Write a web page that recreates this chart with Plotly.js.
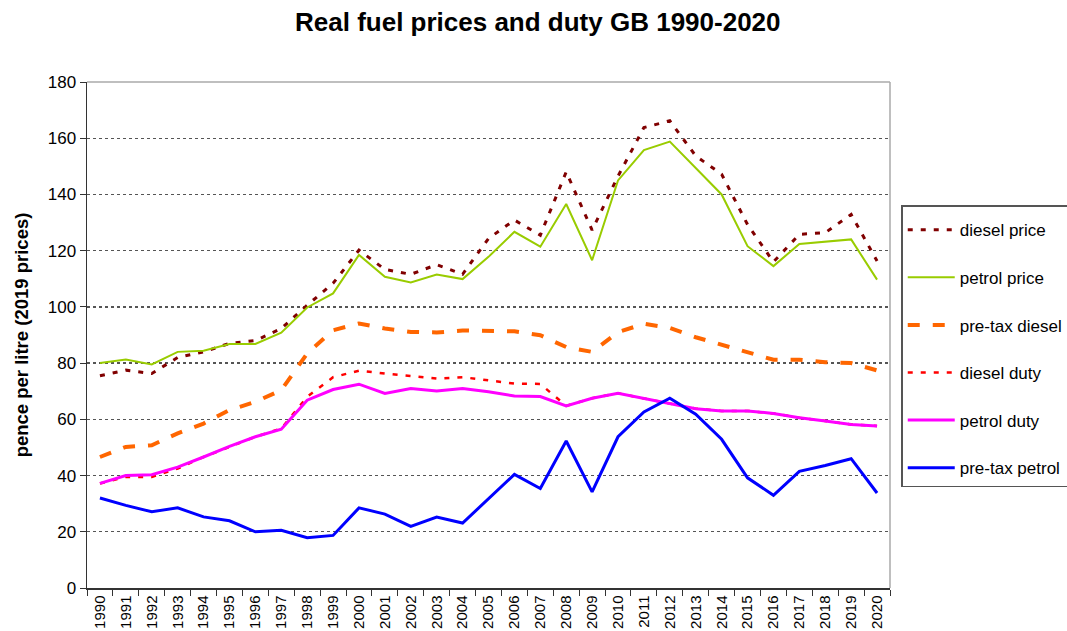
<!DOCTYPE html>
<html>
<head>
<meta charset="utf-8">
<script src="https://cdn.plot.ly/plotly-3.0.1.min.js"></script>
<style>
  html, body { margin: 0; padding: 0; background: #fff; }
  #chart { width: 1067px; height: 631px; }
</style>
</head>
<body>
<div id="chart"></div>
<script>
const years = ["1990","1991","1992","1993","1994","1995","1996","1997","1998","1999","2000","2001","2002","2003","2004","2005","2006","2007","2008","2009","2010","2011","2012","2013","2014","2015","2016","2017","2018","2019","2020"];

const dieselPrice = [75.5, 77.5, 76.3, 82, 84, 87, 88, 92.3, 100.6, 108.4, 120.2, 113.3, 111.6, 115, 111.6, 124.3, 130.9, 125.5, 148, 127.3, 146.5, 163.8, 166.2, 153.7, 147.2, 129.3, 116, 125.8, 126.4, 132.9, 116.3];
const petrolPrice = [80, 81.3, 79.5, 84, 84.4, 86.8, 86.8, 90.8, 99.8, 104.8, 118.5, 110.7, 108.7, 111.5, 109.9, 117.8, 126.7, 121.4, 136.6, 116.6, 145, 155.8, 158.8, 149.5, 140, 121.6, 114.5, 122.4, 123.2, 124, 109.7];
const preTaxDiesel = [46.6, 50.2, 50.8, 55, 58.5, 63.3, 66.2, 70.4, 83.4, 91.7, 94.1, 92.3, 91.1, 90.9, 91.6, 91.6, 91.3, 89.9, 85.7, 84, 91, 94, 92.5, 89.2, 86.5, 83.6, 81.2, 81.2, 80.3, 80, 77.4];
const dieselDuty = [37.2, 39.5, 39.5, 42.5, 46.6, 50.2, 53.8, 56.7, 68, 75, 77.3, 76.3, 75.3, 74.5, 75, 73.8, 72.7, 72.6, 64.8, 67.5, 69.3, 67.4, 65.6, 63.8, 63, 63, 62.1, 60.6, 59.4, 58.2, 57.6];
const petrolDuty = [37.2, 40, 40.3, 43, 46.6, 50.4, 53.8, 56.5, 66.8, 70.6, 72.5, 69.2, 71, 70.1, 71, 69.8, 68.3, 68.1, 64.8, 67.5, 69.3, 67.4, 65.6, 63.8, 63, 63, 62.1, 60.6, 59.4, 58.2, 57.6];
const preTaxPetrol = [32, 29.4, 27.1, 28.5, 25.3, 23.9, 20, 20.5, 17.9, 18.7, 28.5, 26.3, 21.9, 25.2, 23.1, 31.7, 40.4, 35.4, 52.3, 34.2, 53.8, 62.6, 67.5, 61.8, 52.9, 39.2, 33, 41.5, 43.6, 46, 33.8];

const seriesNames = ["diesel price", "petrol price", "pre-tax diesel", "diesel duty", "petrol duty", "pre-tax petrol"];

const FONT = "Liberation Sans, Arial, sans-serif";

function tr(name, y, color, width, dash) {
  return {
    type: "scatter", mode: "lines", name: name, x: years, y: y,
    legendgroup: name,
    line: { color: color, width: width, dash: dash }
  };
}

const data = [
  tr(seriesNames[0], dieselPrice, "#800000", 3, "5px,8px"),
  tr(seriesNames[1], petrolPrice, "#99CC00", 2, "solid"),
  tr(seriesNames[2], preTaxDiesel, "#FF6600", 4, "12px,13px"),
  tr(seriesNames[3], dieselDuty, "#FF0000", 2.5, "5px,8px"),
  tr(seriesNames[4], petrolDuty, "#FF00FF", 3, "solid"),
  tr(seriesNames[5], preTaxPetrol, "#0000FF", 3, "solid")
];

const layout = {
  width: 1067, height: 631,
  margin: { l: 87, r: 177, t: 82, b: 43, autoexpand: false },
  paper_bgcolor: "#ffffff", plot_bgcolor: "#ffffff",
  font: { family: FONT, size: 17, color: "#000" },
  title: {
    text: "<b>Real fuel prices and duty GB 1990-2020</b>",
    font: { family: FONT, size: 26, color: "#000" },
    x: 0.504, xanchor: "center", y: 0.965, yanchor: "middle"
  },
  xaxis: {
    type: "category", categoryorder: "array", categoryarray: years,
    range: [-0.5, 30.5],
    tickangle: -90,
    ticks: "outside", tickson: "boundaries", ticklen: 6, tickcolor: "#333", tickwidth: 1,
    showline: true, linecolor: "#333", linewidth: 1.5,
    showgrid: false, zeroline: false,
    tickfont: { family: FONT, size: 15, color: "#000" }
  },
  yaxis: {
    range: [0, 180], dtick: 20, tick0: 0,
    ticks: "outside", ticklen: 6, tickcolor: "#333", tickwidth: 1,
    showline: true, linecolor: "#333", linewidth: 1.5,
    showgrid: true, gridcolor: "#555", gridwidth: 1.3, griddash: "3px,3px",
    zeroline: false,
    tickfont: { family: FONT, size: 17, color: "#000" },
    title: {
      text: "<b>pence per litre (2019 prices)</b>",
      font: { family: FONT, size: 18.5, color: "#000" },
      standoff: 14
    }
  },
  legend: {
    x: 1.014, xanchor: "left", y: 0.756, yanchor: "top",
    bgcolor: "#ffffff", bordercolor: "#555", borderwidth: 1.5,
    font: { family: FONT, size: 17, color: "#000" },
    title: { text: " ", font: { size: 4 } },
    traceorder: "grouped", tracegroupgap: 22.5,
    itemwidth: 47
  },
  shapes: [
    { type: "line", xref: "paper", yref: "paper", x0: 0, x1: 1, y0: 1, y1: 1, line: { color: "#aaa", width: 1.5 } },
    { type: "line", xref: "paper", yref: "paper", x0: 1, x1: 1, y0: 0, y1: 1, line: { color: "#aaa", width: 1.5 } }
  ],
  showlegend: true
};

Plotly.newPlot("chart", data, layout, { displayModeBar: false, staticPlot: true });
</script>
</body>
</html>
